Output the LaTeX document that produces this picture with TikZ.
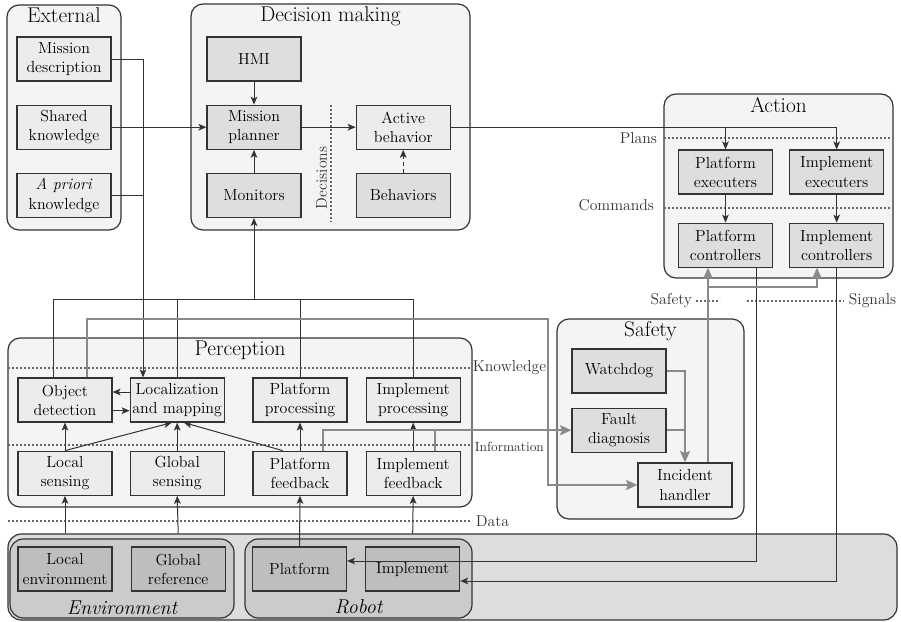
\documentclass[tikz,border=0pt]{standalone}
\usepackage{fontspec}
\usepackage{tikz}
\usetikzlibrary{arrows.meta, positioning, fit}
\definecolor{edgecol}{HTML}{333333}
\definecolor{panelfill}{HTML}{F4F4F4}
\definecolor{lightfill}{HTML}{ECECEC}
\definecolor{darkfill}{HTML}{DEDEDE}
\definecolor{groundfill}{HTML}{DDDDDD}
\definecolor{groupfill}{HTML}{CBCBCB}
\definecolor{worldfill}{HTML}{BEBEBE}
\definecolor{safetycol}{HTML}{8A8A8A}
\definecolor{dotcol}{HTML}{666666}
\newcommand{\boxfont}{\fontsize{12}{14.3}\selectfont}
\newcommand{\titlefont}{\fontsize{16}{19}\selectfont}
\newcommand{\layerfont}{\fontsize{11.8}{13}\selectfont}
\tikzset{
  panel/.style={
    rectangle, rounded corners=9pt,
    draw=edgecol, line width=0.9pt,
    fill=panelfill, inner sep=0pt,
  },
  paneltitle/.style={font=\titlefont, inner sep=1pt},
  module/.style={
    rectangle,
    minimum width=70.5pt, minimum height=33pt,
    align=center, draw=edgecol, line width=0.9pt,
    fill=lightfill, inner sep=1pt, font=\boxfont,
  },
  moduledark/.style={module, fill=darkfill},
  worldbox/.style={module, fill=worldfill},
  ground/.style={panel, fill=groundfill, rounded corners=10pt},
  group/.style={panel, fill=groupfill, rounded corners=10pt},
  arrow/.style={-{Stealth[length=6pt,width=5pt,inset=1.5pt]}, line width=0.75pt, draw=edgecol},
  link/.style={line width=0.75pt, draw=edgecol},
  safearrow/.style={-{Stealth[length=8.5pt,width=7.5pt,inset=1.5pt]}, line width=1.4pt, draw=safetycol},
  safelink/.style={line width=1.4pt, draw=safetycol},
  layerline/.style={draw=dotcol, line width=0.8pt, dash pattern=on 1.2pt off 1.8pt},
  layerlabel/.style={font=\layerfont, inner sep=2pt, text=edgecol},
}

\begin{document}
\begin{tikzpicture}[x=0.75pt,y=-0.75pt]
  \useasboundingbox (0,0) rectangle (901,622);

  % panels
  \node[panel,fit={(7,5) (121,230)}] (external) {};
  \node[panel,fit={(191,4) (470,230)}] (decision) {};
  \node[panel,fit={(664,94) (893,278)}] (action) {};
  \node[panel,fit={(8,338) (472,507)}] (perception) {};
  \node[panel,fit={(557,319) (744,519)}] (safety) {};
  \node[ground,fit={(8,534) (897,620)}] (ground) {};
  \node[group,fit={(10,539) (234,618)}] (envgroup) {};
  \node[group,fit={(245,539) (472,618)}] (robotgroup) {};

  \node[paneltitle,below=1.5pt of external.north] {External};
  \node[paneltitle,below=1.5pt of decision.north] {Decision making};
  \node[paneltitle,below=1.5pt of action.north] {Action};
  \node[paneltitle,below=1.5pt of perception.north] {Perception};
  \node[paneltitle,below=1.5pt of safety.north] {Safety};
  \node[paneltitle,font=\fontsize{15}{18}\selectfont\itshape,above=2pt of envgroup.south] {Environment};
  \node[paneltitle,font=\fontsize{15}{18}\selectfont\itshape,above=2pt of robotgroup.south] {Robot};

  % layer separators
  \draw[layerline] (664,138) -- (893,138);
  \node[layerlabel,anchor=east] (plans) at (660,138) {Plans};
  \draw[layerline] (664,208) -- (893,208);
  \node[layerlabel,anchor=east] (commands) at (657,205) {Commands};
  \draw[layerline] (331,105) -- (331,222);
  \node[layerlabel,rotate=90,anchor=south west] (decisions) at (330,212) {Decisions};
  \draw[layerline] (8,368) -- (470,368);
  \node[layerlabel,anchor=west] (knowledge) at (470,368) {Knowledge};
  \draw[layerline] (8,445) -- (470,445);
  \node[layerlabel,anchor=west,font=\fontsize{10}{12}\selectfont] (information) at (472,447) {Information};
  \draw[layerline] (8,521) -- (472,521);
  \node[layerlabel,anchor=west] (data) at (473,521) {Data};
  \draw[layerline] (696,301) -- (720,301);
  \draw[layerline] (747,301) -- (844,301);
  \node[layerlabel,anchor=east] (safetysig) at (695,301) {Safety};
  \node[layerlabel,anchor=west] (signals) at (846,301) {Signals};

  % external
  \node[module] (mission) at (64,59) {Mission\\description};
  \node[module,below=17.25pt of mission] (shared) {Shared\\knowledge};
  \node[module,below=17.25pt of shared] (apriori) {\emph{A priori}\\knowledge};

  % decision making
  \node[moduledark] (hmi) at (254,59) {HMI};
  \node[moduledark,below=17.25pt of hmi] (planner) {Mission\\planner};
  \node[moduledark,below=17.25pt of planner] (monitors) {Monitors};
  \node[module,right=40.5pt of planner] (active) {Active\\behavior};
  \node[moduledark,below=17.25pt of active] (behaviors) {Behaviors};

  % action
  \node[moduledark] (pexec) at (725.5,172) {Platform\\executers};
  \node[moduledark,right=12pt of pexec] (iexec) {Implement\\executers};
  \node[moduledark,below=21pt of pexec] (pctrl) {Platform\\controllers};
  \node[moduledark,below=21pt of iexec] (ictrl) {Implement\\controllers};

  % perception
  \node[module] (objdet) at (65,400) {Object\\detection};
  \node[module,right=12.75pt of objdet] (localization) {Localization\\and mapping};
  \node[module] (pproc) at (300,400) {Platform\\processing};
  \node[module,right=13.5pt of pproc] (iproc) {Implement\\processing};
  \node[module,below=21pt of objdet] (lsense) {Local\\sensing};
  \node[module,below=21pt of localization] (gsense) {Global\\sensing};
  \node[module,below=21pt of pproc] (pfb) {Platform\\feedback};
  \node[module,below=21pt of iproc] (ifb) {Implement\\feedback};

  % safety
  \node[moduledark] (watchdog) at (619,371) {Watchdog};
  \node[moduledark,below=10.5pt of watchdog] (fault) {Fault\\diagnosis};
  \node[module] (incident) at (685,485) {Incident\\handler};

  % environment and robot
  \node[worldbox] (lenv) at (65,569) {Local\\environment};
  \node[worldbox,right=13.5pt of lenv] (genv) {Global\\reference};
  \node[worldbox] (platform) at (299.5,569) {Platform};
  \node[worldbox,right=13.5pt of platform] (implement) {\raisebox{-2pt}{Implement}};

  % tap points
  \coordinate (extdrop) at (143,0);
  \coordinate (bushub) at (254,299);
  \coordinate (objtap) at (53,299);
  \coordinate (objsafe) at (87,0);
  \coordinate (safeturn) at (548,319);
  \coordinate (pfbtap) at (323,0);
  \coordinate (ifbtap) at (435,0);
  \coordinate (safeup) at (708,0);
  \coordinate (safesplit) at (708,287);
  \coordinate (ictrlin) at (817,0);
  \coordinate (pctrlout) at (756,0);
  \coordinate (ictrlout) at (836,0);

  % decision connectors
  \draw[arrow] (hmi) -- (planner);
  \draw[arrow] (monitors) -- (planner);
  \draw[arrow] (shared) -- (planner);
  \draw[arrow] (planner) -- (active);
  \draw[arrow,densely dashed] (behaviors) -- (active);
  \draw[arrow] (mission.east) -| (extdrop |- localization.north);
  \draw[link] (apriori.east) -- (apriori.east -| extdrop);

  % action connectors
  \draw[arrow] (active.east) -| (pexec.north);
  \draw[arrow] (active.east) -| (iexec.north);
  \draw[arrow] (pexec) -- (pctrl);
  \draw[arrow] (iexec) -- (ictrl);
  \draw[arrow] (pctrl.south -| pctrlout) |- ([yshift=6pt]platform.east);
  \draw[arrow] (ictrl.south -| ictrlout) |- ([yshift=-9pt]implement.east);

  % perception to decision
  \draw[link] (objdet.north -| objtap) -- (objtap) -- (bushub -| iproc.north) -- (iproc.north);
  \draw[link] (localization.north) -- (localization.north |- bushub);
  \draw[link] (pproc.north) -- (pproc.north |- bushub);
  \draw[arrow] (bushub) -- (monitors.south);

  % perception connectors
  \draw[arrow] (lsense) -- (objdet);
  \draw[arrow] (lsense.north) -- ([xshift=-4pt]localization.south);
  \draw[arrow] (gsense) -- (localization);
  \draw[arrow] ([xshift=-13pt]pfb.north) -- ([xshift=5pt]localization.south);
  \draw[arrow] ([yshift=6pt]localization.west) -- ([yshift=6pt]objdet.east);
  \draw[arrow] ([yshift=-8pt]objdet.east) -- ([yshift=-8pt]localization.west);
  \draw[arrow] (pfb) -- (pproc);
  \draw[arrow] (ifb) -- (iproc);

  % data from the world
  \draw[arrow] (lenv.north |- ground.north) -- (lsense.south);
  \draw[arrow] (genv.north |- ground.north) -- (gsense.south);
  \draw[arrow] (platform.north) -- (pfb.south);
  \draw[arrow] (implement.north |- ground.north) -- (ifb.south);

  % safety connectors
  \draw[safearrow] (objdet.north -| objsafe) |- (safeturn) |- (incident.west);
  \draw[safearrow] (pfb.north -| pfbtap) |- (fault.west);
  \draw[safelink] (ifb.north -| ifbtap) -- (ifbtap |- fault.west);
  \draw[safearrow] (watchdog.east) -| (incident.north);
  \draw[safelink] (fault.east) -- (fault.east -| incident.north);
  \draw[safearrow] (incident.north -| safeup) -- (pctrl.south -| safeup);
  \draw[safearrow] (safesplit) -| (ictrl.south -| ictrlin);
\end{tikzpicture}
\end{document}
